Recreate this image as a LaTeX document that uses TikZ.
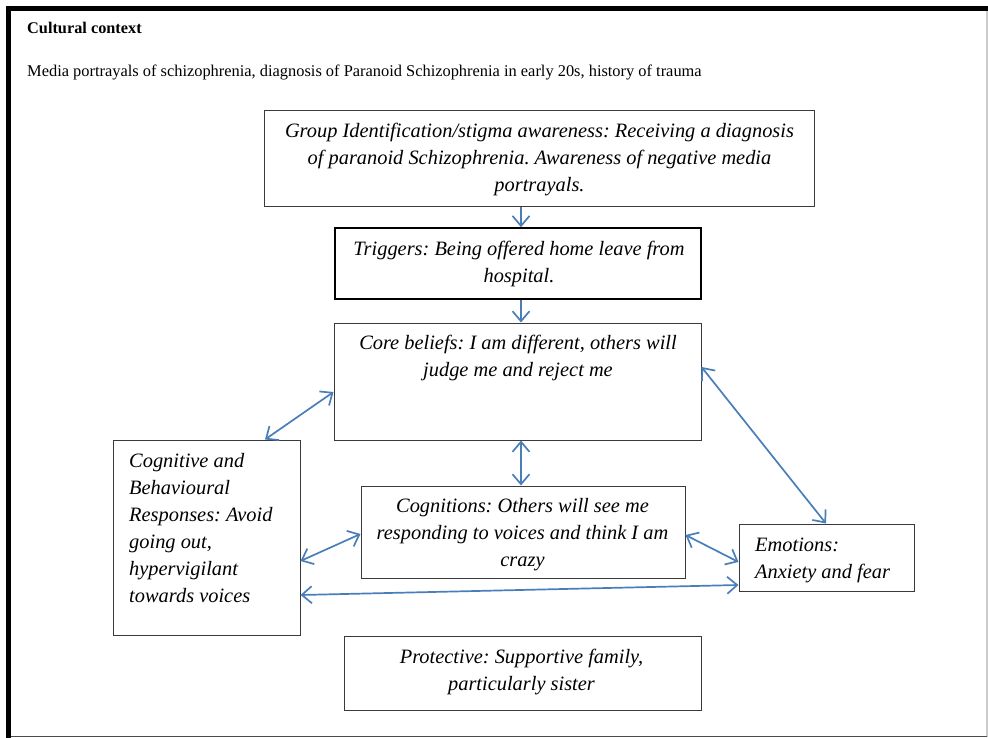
\documentclass[tikz,border=0pt]{standalone}
\usepackage{fontspec}
\setmainfont{Liberation Serif}
\usetikzlibrary{arrows.meta}
\definecolor{arrowblue}{HTML}{4A7EBB}
\definecolor{boxgray}{HTML}{3A3A3A}
\tikzset{
  box/.style={draw=boxgray, line width=1pt, rectangle, inner sep=0pt, fill=none},
  boxthick/.style={draw=black, line width=1.6pt, rectangle, inner sep=0pt},
  txt/.style={inner sep=0pt, font=\fontsize{20.4}{27}\selectfont\itshape},
  link/.style={draw=arrowblue, line width=1.7pt, {Straight Barb[length=10pt,width=17pt]}-{Straight Barb[length=10pt,width=17pt]}},
  onelink/.style={draw=arrowblue, line width=1.7pt, -{Straight Barb[length=10pt,width=17pt]}},
}
\frenchspacing
\begin{document}
\begin{tikzpicture}[x=1pt,y=-1pt]
\useasboundingbox (0,0) rectangle (988,738);
\fill[white] (0,0) rectangle (988,738);
% outer frame
\draw[black!20, line width=1.5pt] (987,8) -- (987,737);
\draw[black!70, line width=1.5pt] (8,736.5) -- (987,736.5);
\draw[black, line width=5pt] (6,8.5) -- (988,8.5);
\draw[black, line width=5pt] (8.5,6) -- (8.5,738);
% header
\node[anchor=base west, inner sep=0pt, font=\fontsize{16.3}{18}\selectfont\bfseries] (hdr) at (27,33.3) {Cultural context};
\node[anchor=base west, inner sep=0pt, font=\fontsize{16.4}{18}\selectfont] (ctx) at (27,77) {Media portrayals of schizophrenia, diagnosis of Paranoid Schizophrenia in early 20s, history of trauma};
% boxes
\node[box, minimum width=550pt, minimum height=96pt] (group) at (539,159) {};
\node[boxthick, minimum width=366pt, minimum height=71pt] (trig) at (518,263.5) {};
\node[box, minimum width=367pt, minimum height=117pt] (core) at (517.5,381.5) {};
\node[box, minimum width=187pt, minimum height=195pt] (cb) at (206.5,537.5) {};
\node[box, minimum width=324pt, minimum height=92pt] (cog) at (523,532) {};
\node[box, minimum width=175pt, minimum height=67pt] (emo) at (826.5,557.5) {};
\node[box, minimum width=357pt, minimum height=74pt] (prot) at (522.5,673) {};
% texts
\node[txt, anchor=north, align=center] (tgroup) at (539.5,118.4) {\strut Group Identification/stigma awareness: Receiving a diagnosis\\of paranoid Schizophrenia. Awareness of negative media\\portrayals.};
\node[txt, anchor=north, align=center] (ttrig) at (519,236.1) {\strut Triggers: Being offered home leave from\\hospital.};
\node[txt, anchor=north, align=center] (tcore) at (518,330.1) {\strut Core beliefs: I am different, others will\\judge me and reject me};
\node[txt, anchor=north west, align=left] (tcb) at (129,448.1) {\strut Cognitive and\\Behavioural\\Responses: Avoid\\going out,\\hypervigilant\\towards voices};
\node[txt, anchor=north, align=center] (tcog) at (522.5,493.1) {\strut Cognitions: Others will see me\\responding to voices and think I am\\crazy};
\node[txt, anchor=north west, align=left] (temo) at (755,532.1) {\strut Emotions:\\Anxiety and fear};
\node[txt, anchor=north, align=center] (tprot) at (521.5,644.1) {\strut Protective: Supportive family,\\particularly sister};
% connectors
\draw[onelink] ([xshift=-18pt]group.south) -- ([xshift=3pt]trig.north);
\draw[onelink] ([xshift=3pt]trig.south) -- ([xshift=3.5pt]core.north);
\draw[link] ([xshift=3.5pt]core.south) -- ([xshift=-2pt]cog.north);
\draw[link] ([yshift=-10.5pt]core.west) -- ([xshift=58.5pt]cb.north);
\draw[link] ([yshift=14.5pt]core.east) -- ([xshift=-0.5pt]emo.north);
\draw[link] ([yshift=-2pt]cog.west) -- ([yshift=-23.5pt]cb.east);
\draw[link] ([yshift=-3pt]cog.east) -- ([yshift=-4.5pt]emo.west);
\draw[link] ([yshift=-57.5pt]cb.east) -- ([yshift=-27.5pt]emo.west);
\end{tikzpicture}
\end{document}
